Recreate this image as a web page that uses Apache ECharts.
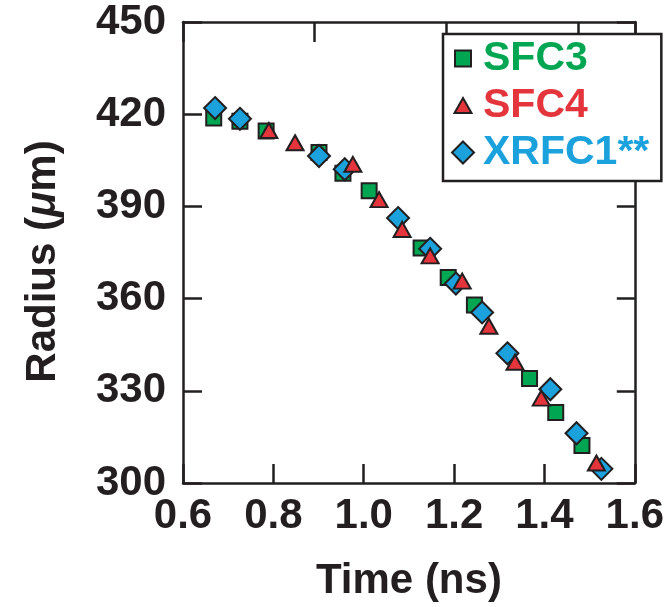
<!DOCTYPE html>
<html>
<head>
<meta charset="utf-8">
<script src="https://cdn.jsdelivr.net/npm/echarts@6/dist/echarts.min.js"></script>
<style>html,body{margin:0;padding:0;background:#fff;}#c{width:667px;height:607px;}</style>
</head>
<body>
<div id="c"></div>
<script>
// SFC3 (green squares): [time ns, radius um]
const sfc3 = [
  [0.668, 418.8], [0.726, 417.7], [0.784, 414.5], [0.901, 407.5], [0.954, 400.8],
  [1.012, 395.1], [1.127, 376.5], [1.187, 366.9], [1.245, 357.9], [1.367, 334.0],
  [1.425, 322.9], [1.483, 312.2]
];
// SFC4 (red triangles)
const sfc4 = [
  [0.790, 414.7], [0.848, 410.7], [0.976, 403.7], [1.034, 392.2], [1.085, 382.5],
  [1.147, 373.9], [1.218, 365.7], [1.277, 351.0], [1.335, 339.3], [1.393, 327.6],
  [1.515, 306.5]
];
// XRFC1** (blue diamonds)
const xrfc1 = [
  [0.671, 422.0], [0.726, 418.5], [0.901, 406.4], [0.958, 402.1], [1.076, 386.2],
  [1.147, 376.2], [1.204, 364.9], [1.262, 355.5], [1.318, 342.2], [1.413, 330.5],
  [1.471, 316.2], [1.526, 304.6]
];
const seriesNames = ['SFC3', 'SFC4', 'XRFC1**'];
const xTicks = [0.6, 0.8, 1.0, 1.2, 1.4, 1.6];
const yTicks = [300, 330, 360, 390, 420, 450];

const INK = '#231f20';
const GREEN = '#00a651', RED = '#e4353c', BLUE = '#1ba1dc';
const FONT = '"Liberation Sans", Arial, Helvetica, sans-serif';

// legend icons drawn in a 30x24 box (leading moves fix the bounding box)
const BOX = 'M0,0M30,24';
const ICON_SQUARE = 'path://' + BOX + 'M7,4L23,4L23,20L7,20Z';
const ICON_TRIANGLE = 'path://' + BOX + 'M15,4.5L23.5,19.5L6.5,19.5Z';
const ICON_DIAMOND = 'path://' + BOX + 'M15,1L26,12L15,23L4,12Z';

const chart = echarts.init(document.getElementById('c'), null, {renderer: 'canvas'});
const axisLineStyle = {color: INK, width: 2.5};
const option = {
  animation: false,
  backgroundColor: '#fff',
  textStyle: {fontFamily: FONT},
  grid: {left: 183, top: 22, width: 458, height: 464},
  legend: {
    orient: 'vertical', left: 443, top: 34,
    padding: [1, 12, 5, 4], itemGap: 0, itemWidth: 30, itemHeight: 24,
    backgroundColor: '#fff', borderColor: INK, borderWidth: 2.5, borderRadius: 0,
    textStyle: {fontSize: 41, fontWeight: 'bold', fontFamily: FONT, lineHeight: 47},
    data: [
      {name: seriesNames[0], icon: ICON_SQUARE, textStyle: {color: GREEN}},
      {name: seriesNames[1], icon: ICON_TRIANGLE, textStyle: {color: RED}},
      {name: seriesNames[2], icon: ICON_DIAMOND, textStyle: {color: BLUE}}
    ]
  },
  xAxis: [{
    type: 'value', position: 'bottom', min: xTicks[0], max: xTicks[xTicks.length - 1], interval: 0.2,
    name: 'Time (ns)', nameLocation: 'middle', nameGap: 77,
    nameTextStyle: {fontSize: 42, fontWeight: 'bold', color: INK, fontFamily: FONT},
    axisLine: {show: true, lineStyle: axisLineStyle},
    axisTick: {show: true, inside: true, length: 19, lineStyle: axisLineStyle},
    axisLabel: {show: true, margin: 12, fontSize: 42, fontWeight: 'bold', color: INK, fontFamily: FONT,
      formatter: v => v.toFixed(1)},
    splitLine: {show: false}
  }, {
    type: 'value', position: 'top', min: 0, max: 3.43, interval: 1,
    axisLine: {show: true, lineStyle: axisLineStyle},
    axisTick: {show: true, inside: true, length: 20, lineStyle: axisLineStyle},
    axisLabel: {show: false}, splitLine: {show: false}
  }],
  yAxis: [{
    type: 'value', position: 'left', min: yTicks[0], max: yTicks[yTicks.length - 1], interval: 30,
    name: '{a|Radius (}{b|μ}{a|m)}', nameLocation: 'middle', nameGap: 119, nameRotate: 90,
    nameTextStyle: {
      color: INK, padding: [0, 18, 0, 0],
      rich: {
        a: {fontSize: 42, fontWeight: 'bold', color: INK, fontFamily: FONT},
        b: {fontSize: 42, fontWeight: 'bold', fontStyle: 'italic', color: INK, fontFamily: FONT}
      }
    },
    axisLine: {show: true, lineStyle: axisLineStyle},
    axisTick: {show: true, inside: true, length: 19, lineStyle: axisLineStyle},
    axisLabel: {show: true, margin: 17, fontSize: 42, fontWeight: 'bold', color: INK, fontFamily: FONT},
    splitLine: {show: false}
  }, {
    type: 'value', position: 'right', min: yTicks[0], max: yTicks[yTicks.length - 1], interval: 30,
    axisLine: {show: true, lineStyle: axisLineStyle},
    axisTick: {show: true, inside: true, length: 18, lineStyle: axisLineStyle},
    axisLabel: {show: false}, splitLine: {show: false}
  }],
  series: [
    {name: seriesNames[0], type: 'scatter', data: sfc3, symbol: 'rect', symbolSize: 15,
     itemStyle: {color: GREEN, borderColor: INK, borderWidth: 2, opacity: 1}, z: 2},
    {name: seriesNames[2], type: 'scatter', data: xrfc1, symbol: 'diamond', symbolSize: 22,
     itemStyle: {color: BLUE, borderColor: INK, borderWidth: 2, opacity: 1}, z: 3},
    {name: seriesNames[1], type: 'scatter', data: sfc4, symbol: 'triangle', symbolSize: [17, 15],
     itemStyle: {color: RED, borderColor: INK, borderWidth: 2, opacity: 1}, z: 4}
  ]
};
chart.setOption(option);
</script>
</body>
</html>
